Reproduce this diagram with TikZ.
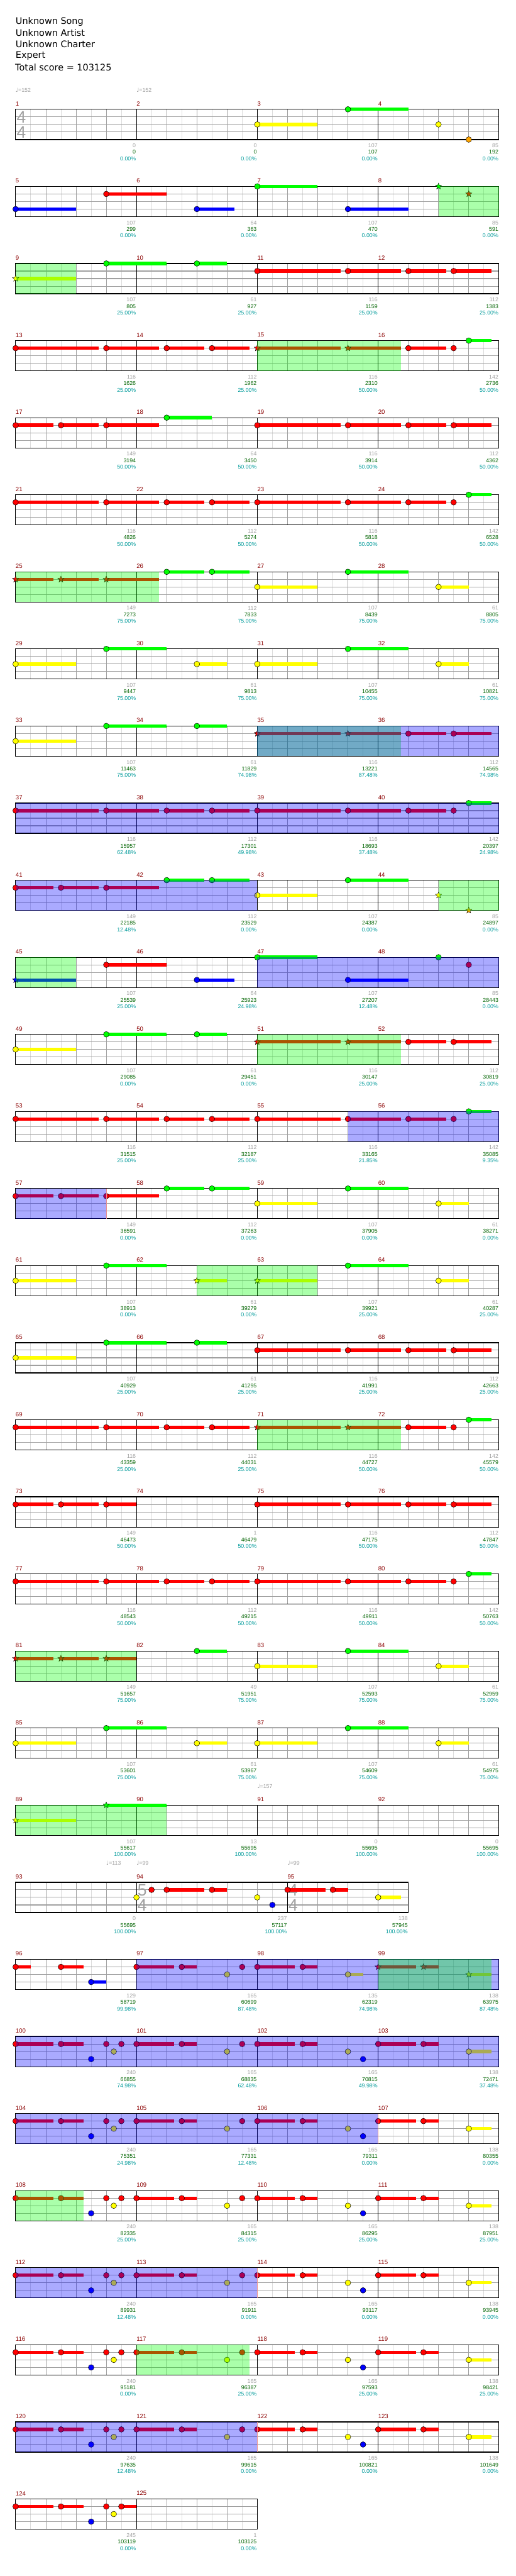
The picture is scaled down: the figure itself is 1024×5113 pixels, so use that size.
\documentclass[tikz,border=0pt]{standalone}
\usepackage{fontspec}
\setmainfont{Liberation Sans}
\newfontfamily\dejavu{DejaVu Sans}
\usetikzlibrary{shapes.geometric}
\definecolor{cG}{HTML}{00FF00}
\definecolor{cR}{HTML}{FF0000}
\definecolor{cY}{HTML}{FFFF00}
\definecolor{cB}{HTML}{0000FF}
\definecolor{cO}{HTML}{FFA500}
\definecolor{mred}{HTML}{8B0000}
\definecolor{tgray}{HTML}{A0A0A0}
\definecolor{tgreen}{HTML}{006400}
\definecolor{tteal}{HTML}{009B9B}
\definecolor{hline}{HTML}{DCDCDC}
\definecolor{endpink}{HTML}{E89090}
\tikzset{
 halfline/.style={draw=hline,line width=1pt},
 beatline/.style={draw=tgray,line width=1pt},
 laneline/.style={draw=tgray,line width=1.3pt},
 measline/.style={draw=black,line width=1pt},
 border/.style={draw=black,line width=1.5pt},
 spstar/.style={star,star points=5,star point ratio=2.3,minimum size=13pt,inner sep=0pt,draw=black,line width=.5pt},
 hdr/.style={font=\dejavu\fontsize{18}{18}\selectfont,anchor=west,inner sep=0pt},
 mnum/.style={text=mred,font=\fontsize{12}{12}\selectfont,anchor=west,inner sep=0pt},
 sgray/.style={text=tgray,font=\fontsize{11}{11}\selectfont,anchor=east,inner sep=0pt},
 sgreen/.style={text=tgreen,font=\fontsize{11}{11}\selectfont,anchor=east,inner sep=0pt},
 steal/.style={text=tteal,font=\fontsize{11}{11}\selectfont,anchor=east,inner sep=0pt},
 tempo/.style={text=tgray,font=\fontsize{11}{11}\selectfont,anchor=west,inner sep=0pt},
 tsig/.style={text=tgray,font=\fontsize{33}{33}\selectfont,anchor=west,inner sep=0pt}
}
\def\laneG{0}\def\laneR{1}\def\laneY{2}\def\laneB{3}\def\laneO{4}
\newcommand\setrow[1]{\pgfmathsetmacro\rowT{217+153*(#1-1)}}
\newcommand\xGrid[2]{%
 \pgfmathtruncatemacro\hb{2*#1-1}\pgfmathtruncatemacro\bb{#1-1}%
 \foreach \i in {1,...,\hb}{\draw[halfline] ({31+30*\i},\rowT) -- ++(0,60);}%
 \foreach \i in {1,...,\bb}{\draw[beatline] ({31+60*\i},\rowT) -- ++(0,60);}%
 \foreach \j in {1,2,3}{\draw[laneline] (31,{\rowT+15*\j}) -- ++({60*#1},0);}%
 \foreach \i in {#2}{\draw[measline] ({31+60*\i},\rowT) -- ++(0,60);}%
 \draw[border] (31,\rowT) rectangle ({31+60*#1},{\rowT+60});}
\newcommand\xN[2]{\fill[draw=black,line width=.6pt,fill=c#2] ({31+60*(#1)},{\rowT+15*\csname lane#2\endcsname}) circle (5.6);}
\newcommand\xS[3]{\fill[c#3] ({31+60*(#1)},{\rowT+15*\csname lane#3\endcsname-3.3}) rectangle ({31+60*(#2)},{\rowT+15*\csname lane#3\endcsname+3.3});}
\newcommand\xNS[3]{\xS{#1}{#2}{#3}\xN{#1}{#3}}
\newcommand\xT[2]{\node[spstar,fill=c#2] at ({31+60*(#1)},{\rowT+15*\csname lane#2\endcsname}) {};}
\newcommand\xTS[3]{\xS{#1}{#2}{#3}\xT{#1}{#3}}
\newcommand\xGO[2]{\fill[cG,fill opacity=.3333] ({31+60*(#1)},\rowT) rectangle ({31+60*(#2)},{\rowT+60});}
\newcommand\xBO[2]{\fill[cB,fill opacity=.3333] ({31+60*(#1)},\rowT) rectangle ({31+60*(#2)},{\rowT+60});}
\newcommand\xEnd[1]{\draw[draw=endpink,line width=1pt] ({31+60*(#1)},\rowT) -- ++(0,60);}
\newcommand\xMN[2]{\node[mnum] at ({31+60*(#1)},{\rowT-11}) {#2};}
\newcommand\xSC[4]{\node[sgray] at ({30+60*(#1)},{\rowT+72}) {#2};\node[sgreen] at ({30+60*(#1)},{\rowT+85}) {#3};\node[steal] at ({30+60*(#1)},{\rowT+98}) {#4\%};}
\newcommand\xTP[2]{\node[tempo] at ({31+60*(#1)},{\rowT-38}) {{\dejavu ♩}=#2};}
\newcommand\xTSig[3]{\node[tsig] at ({33+60*(#1)},{\rowT+16}) {#2};\node[tsig] at ({33+60*(#1)},{\rowT+46}) {#3};}
\newcommand\stdrow[2]{\setrow{#1}\xGrid{16}{4,8,12}%
 \xMN{0}{#2}\xMN{4}{\the\numexpr#2+1\relax}\xMN{8}{\the\numexpr#2+2\relax}\xMN{12}{\the\numexpr#2+3\relax}}
% recurring figures
\newcommand\patA{\xNS{0}{2.75}{R}\xNS{3}{4.75}{R}\xNS{5}{6.25}{R}\xNS{6.5}{7.75}{R}}
\newcommand\patB{\xNS{8}{10.75}{R}\xNS{11}{12.75}{R}\xNS{13}{14.25}{R}\xNS{14.5}{15.75}{R}}
\newcommand\patBG{\xNS{8}{10.75}{R}\xNS{11}{12.75}{R}\xNS{13}{14.25}{R}\xN{14.5}{R}\xNS{15}{15.75}{G}}
\newcommand\patBS{\xTS{8}{10.75}{R}\xTS{11}{12.75}{R}\xNS{13}{14.25}{R}}
\newcommand\patP{\xNS{0}{1.25}{R}\xNS{1.5}{2.25}{R}\xN{2.5}{B}\xN{3}{R}\xN{3.25}{Y}\xN{3.5}{R}%
 \xNS{4}{5.25}{R}\xNS{5.5}{6}{R}\xN{7}{Y}\xN{7.5}{R}}
\newcommand\patQ{\xNS{8}{9.25}{R}\xNS{9.5}{10}{R}\xN{11}{Y}\xN{11.5}{B}\xNS{12}{13.25}{R}\xNS{13.5}{14}{R}\xNS{15}{15.75}{Y}}
\begin{document}
\begin{tikzpicture}[x=1pt,y=-1pt]
\useasboundingbox[fill=white] (0,0) rectangle (1024,5113);
\node[hdr] (song) at (31,42.7) {Unknown Song};
\node[hdr] (artist) at (31,65) {Unknown Artist};
\node[hdr] (charter) at (31,88) {Unknown Charter};
\node[hdr] (diff) at (31,111) {Expert};
\node[hdr] (total) at (30,134) {Total score = 103125};
% row 1
\stdrow{1}{1}\xTSig{0}{4}{4}\xTP{0}{152}\xTP{4}{152}
\xNS{8}{10}{Y}\xNS{11}{13}{G}\xN{14}{Y}\xN{15}{O}
\xSC{4}{0}{0}{0.00}\xSC{8}{0}{0}{0.00}\xSC{12}{107}{107}{0.00}\xSC{16}{85}{192}{0.00}
% row 2
\stdrow{2}{5}
\xNS{0}{2}{B}\xNS{3}{5}{R}\xNS{6}{7.25}{B}\xNS{8}{10}{G}\xNS{11}{13}{B}\xT{14}{G}\xT{15}{R}\xGO{14}{16}
\xSC{4}{107}{299}{0.00}\xSC{8}{64}{363}{0.00}\xSC{12}{107}{470}{0.00}\xSC{16}{85}{591}{0.00}
% row 3
\stdrow{3}{9}
\xTS{0}{2}{Y}\xNS{3}{5}{G}\xNS{6}{7}{G}\patB\xGO{0}{2}
\xSC{4}{107}{805}{25.00}\xSC{8}{61}{927}{25.00}\xSC{12}{116}{1159}{25.00}\xSC{16}{112}{1383}{25.00}
% row 4
\stdrow{4}{13}
\patA\patBS\xN{14.5}{R}\xNS{15}{15.75}{G}\xGO{8}{12.75}
\xSC{4}{116}{1626}{25.00}\xSC{8}{112}{1962}{25.00}\xSC{12}{116}{2310}{50.00}\xSC{16}{142}{2736}{50.00}
% row 5
\stdrow{5}{17}
\xNS{0}{1.25}{R}\xNS{1.5}{2.75}{R}\xNS{3}{4.75}{R}\xNS{5}{6.5}{G}\patB
\xSC{4}{149}{3194}{50.00}\xSC{8}{64}{3450}{50.00}\xSC{12}{116}{3914}{50.00}\xSC{16}{112}{4362}{50.00}
% row 6
\stdrow{6}{21}
\patA\patBG
\xSC{4}{116}{4826}{50.00}\xSC{8}{112}{5274}{50.00}\xSC{12}{116}{5818}{50.00}\xSC{16}{142}{6528}{50.00}
% row 7
\stdrow{7}{25}
\xTS{0}{1.25}{R}\xTS{1.5}{2.75}{R}\xTS{3}{4.75}{R}\xNS{5}{6.25}{G}\xNS{6.5}{7.75}{G}
\xNS{8}{10}{Y}\xNS{11}{13}{G}\xNS{14}{15}{Y}\xGO{0}{4.75}
\xSC{4}{149}{7273}{75.00}\xSC{8}{112}{7833}{75.00}\xSC{12}{107}{8439}{75.00}\xSC{16}{61}{8805}{75.00}
% row 8
\stdrow{8}{29}
\xNS{0}{2}{Y}\xNS{3}{5}{G}\xNS{6}{7}{Y}\xNS{8}{10}{Y}\xNS{11}{13}{G}\xNS{14}{15}{Y}
\xSC{4}{107}{9447}{75.00}\xSC{8}{61}{9813}{75.00}\xSC{12}{107}{10455}{75.00}\xSC{16}{61}{10821}{75.00}
% row 9
\stdrow{9}{33}
\xNS{0}{2}{Y}\xNS{3}{5}{G}\xNS{6}{7}{G}\patBS\xNS{14.5}{15.75}{R}\xGO{8}{12.75}\xBO{8}{16}
\xSC{4}{107}{11463}{75.00}\xSC{8}{61}{11829}{74.98}\xSC{12}{116}{13221}{87.48}\xSC{16}{112}{14565}{74.98}
% row 10
\stdrow{10}{37}
\patA\patBG\xBO{0}{16}
\xSC{4}{116}{15957}{62.48}\xSC{8}{112}{17301}{49.98}\xSC{12}{116}{18693}{37.48}\xSC{16}{142}{20397}{24.98}
% row 11
\stdrow{11}{41}
\xNS{0}{1.25}{R}\xNS{1.5}{2.75}{R}\xNS{3}{4.75}{R}\xNS{5}{6.25}{G}\xNS{6.5}{7.75}{G}
\xNS{8}{10}{Y}\xNS{11}{13}{G}\xT{14}{Y}\xT{15}{O}\xBO{0}{8}\xGO{14}{16}
\xSC{4}{149}{22185}{12.48}\xSC{8}{112}{23529}{0.00}\xSC{12}{107}{24387}{0.00}\xSC{16}{85}{24897}{0.00}
% row 12
\stdrow{12}{45}
\xTS{0}{2}{B}\xNS{3}{5}{R}\xNS{6}{7.25}{B}\xNS{8}{10}{G}\xNS{11}{13}{B}\xN{14}{G}\xN{15}{R}\xGO{0}{2}\xBO{8}{16}
\xSC{4}{107}{25539}{25.00}\xSC{8}{64}{25923}{24.98}\xSC{12}{107}{27207}{12.48}\xSC{16}{85}{28443}{0.00}
% row 13
\stdrow{13}{49}
\xNS{0}{2}{Y}\xNS{3}{5}{G}\xNS{6}{7}{G}\patBS\xNS{14.5}{15.75}{R}\xGO{8}{12.75}
\xSC{4}{107}{29085}{0.00}\xSC{8}{61}{29451}{0.00}\xSC{12}{116}{30147}{25.00}\xSC{16}{112}{30819}{25.00}
% row 14
\stdrow{14}{53}
\patA\patBG\xBO{11}{16}
\xSC{4}{116}{31515}{25.00}\xSC{8}{112}{32187}{25.00}\xSC{12}{116}{33165}{21.85}\xSC{16}{142}{35085}{9.35}
% row 15
\stdrow{15}{57}
\xNS{0}{1.25}{R}\xNS{1.5}{2.75}{R}\xNS{3}{4.75}{R}\xNS{5}{6.25}{G}\xNS{6.5}{7.75}{G}
\xNS{8}{10}{Y}\xNS{11}{13}{G}\xNS{14}{15}{Y}\xBO{0}{3}\xEnd{3}
\xSC{4}{149}{36591}{0.00}\xSC{8}{112}{37263}{0.00}\xSC{12}{107}{37905}{0.00}\xSC{16}{61}{38271}{0.00}
% row 16
\stdrow{16}{61}
\xNS{0}{2}{Y}\xNS{3}{5}{G}\xTS{6}{7}{Y}\xTS{8}{10}{Y}\xNS{11}{13}{G}\xNS{14}{15}{Y}\xGO{6}{10}
\xSC{4}{107}{38913}{0.00}\xSC{8}{61}{39279}{0.00}\xSC{12}{107}{39921}{25.00}\xSC{16}{61}{40287}{25.00}
% row 17
\stdrow{17}{65}
\xNS{0}{2}{Y}\xNS{3}{5}{G}\xNS{6}{7}{G}\patB
\xSC{4}{107}{40929}{25.00}\xSC{8}{61}{41295}{25.00}\xSC{12}{116}{41991}{25.00}\xSC{16}{112}{42663}{25.00}
% row 18
\stdrow{18}{69}
\patA\patBS\xN{14.5}{R}\xNS{15}{15.75}{G}\xGO{8}{12.75}
\xSC{4}{116}{43359}{25.00}\xSC{8}{112}{44031}{25.00}\xSC{12}{116}{44727}{50.00}\xSC{16}{142}{45579}{50.00}
% row 19
\stdrow{19}{73}
\xNS{0}{1.25}{R}\xNS{1.5}{2.75}{R}\xNS{3}{4}{R}\patB
\xSC{4}{149}{46473}{50.00}\xSC{8}{1}{46479}{50.00}\xSC{12}{116}{47175}{50.00}\xSC{16}{112}{47847}{50.00}
% row 20
\stdrow{20}{77}
\patA\patBG
\xSC{4}{116}{48543}{50.00}\xSC{8}{112}{49215}{50.00}\xSC{12}{116}{49911}{50.00}\xSC{16}{142}{50763}{50.00}
% row 21
\stdrow{21}{81}
\xTS{0}{1.25}{R}\xTS{1.5}{2.75}{R}\xTS{3}{4}{R}\xNS{6}{7}{G}\xNS{8}{10}{Y}\xNS{11}{13}{G}\xNS{14}{15}{Y}\xGO{0}{4}
\xSC{4}{149}{51657}{75.00}\xSC{8}{49}{51951}{75.00}\xSC{12}{107}{52593}{75.00}\xSC{16}{61}{52959}{75.00}
% row 22
\stdrow{22}{85}
\xNS{0}{2}{Y}\xNS{3}{5}{G}\xNS{6}{7}{Y}\xNS{8}{10}{Y}\xNS{11}{13}{G}\xNS{14}{15}{Y}
\xSC{4}{107}{53601}{75.00}\xSC{8}{61}{53967}{75.00}\xSC{12}{107}{54609}{75.00}\xSC{16}{61}{54975}{75.00}
% row 23
\stdrow{23}{89}\xTP{8}{157}
\xTS{0}{2}{Y}\xTS{3}{5}{G}\xGO{0}{5}
\xSC{4}{107}{55617}{100.00}\xSC{8}{13}{55695}{100.00}\xSC{12}{0}{55695}{100.00}\xSC{16}{0}{55695}{100.00}
% row 24
\setrow{24}\xGrid{13}{4,9}\xMN{0}{93}\xMN{4}{94}\xMN{9}{95}
\xTP{3}{113}\xTP{4}{99}\xTP{9}{99}\xTSig{4}{5}{4}\xTSig{9}{4}{4}
\xN{4}{Y}\xN{4.5}{R}\xNS{5}{6.25}{R}\xNS{6.5}{7}{R}\xN{8}{Y}\xN{8.5}{B}\xNS{9}{10.25}{R}\xNS{10.5}{11}{R}\xNS{12}{12.75}{Y}
\xSC{4}{0}{55695}{100.00}\xSC{9}{237}{57117}{100.00}\xSC{13}{138}{57945}{100.00}
% row 25
\stdrow{25}{96}
\xNS{0}{0.5}{R}\xNS{1.5}{2.25}{R}\xNS{2.5}{3}{B}\xNS{4}{5.25}{R}\xNS{5.5}{6}{R}\xN{7}{Y}\xN{7.5}{R}
\xNS{8}{9.25}{R}\xNS{9.5}{10}{R}\xNS{11}{11.5}{Y}\xTS{12}{13.25}{R}\xTS{13.5}{14}{R}\xTS{15}{15.75}{Y}
\xBO{4}{16}\xGO{12}{15.75}
\xSC{4}{129}{58719}{99.98}\xSC{8}{165}{60699}{87.48}\xSC{12}{135}{62319}{74.98}\xSC{16}{138}{63975}{87.48}
% row 26
\stdrow{26}{100}
\patP\patQ\xBO{0}{16}
\xSC{4}{240}{66855}{74.98}\xSC{8}{165}{68835}{62.48}\xSC{12}{165}{70815}{49.98}\xSC{16}{138}{72471}{37.48}
% row 27
\stdrow{27}{104}
\patP\patQ\xBO{0}{12}\xEnd{12}
\xSC{4}{240}{75351}{24.98}\xSC{8}{165}{77331}{12.48}\xSC{12}{165}{79311}{0.00}\xSC{16}{138}{80355}{0.00}
% row 28
\stdrow{28}{108}
\patP\patQ\xGO{0}{2.25}
\xSC{4}{240}{82335}{25.00}\xSC{8}{165}{84315}{25.00}\xSC{12}{165}{86295}{25.00}\xSC{16}{138}{87951}{25.00}
% row 29
\stdrow{29}{112}
\patP\patQ\xBO{0}{8}\xEnd{8}
\xSC{4}{240}{89931}{12.48}\xSC{8}{165}{91911}{0.00}\xSC{12}{165}{93117}{0.00}\xSC{16}{138}{93945}{0.00}
% row 30
\stdrow{30}{116}
\patP\patQ\xGO{4}{7.75}
\xSC{4}{240}{95181}{0.00}\xSC{8}{165}{96387}{25.00}\xSC{12}{165}{97593}{25.00}\xSC{16}{138}{98421}{25.00}
% row 31
\stdrow{31}{120}
\patP\patQ\xBO{0}{8}\xEnd{8}
\xSC{4}{240}{97635}{12.48}\xSC{8}{165}{99615}{0.00}\xSC{12}{165}{100821}{0.00}\xSC{16}{138}{101649}{0.00}
% row 32
\setrow{32}\xGrid{8}{4}\xMN{0}{124}\xMN{4}{125}
\xNS{0}{1.25}{R}\xNS{1.5}{2.25}{R}\xN{2.5}{B}\xN{3}{R}\xN{3.25}{Y}\xNS{3.5}{4}{R}
\xSC{4}{245}{103119}{0.00}\xSC{8}{1}{103125}{0.00}
\end{tikzpicture}
\end{document}
